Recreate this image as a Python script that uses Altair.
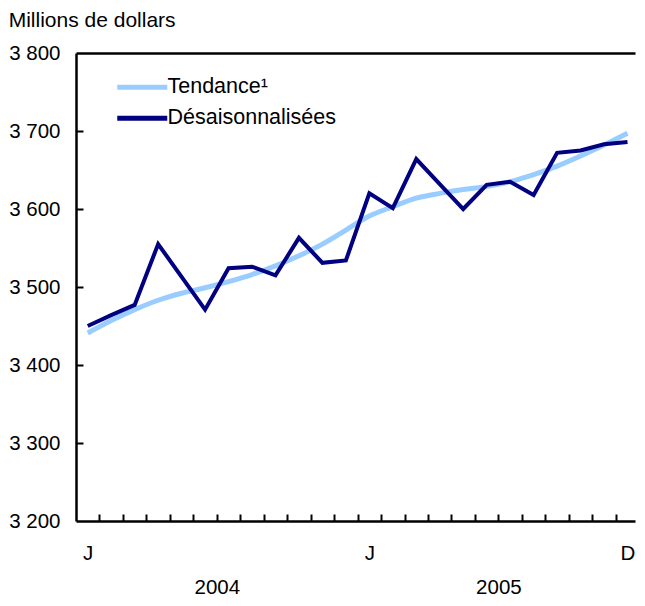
import altair as alt
import pandas as pd

# ---- data ----
month_index = list(range(24))  # Jan 2004 .. Dec 2005
trend = [3441, 3457, 3471, 3483, 3492, 3499, 3507, 3516, 3527, 3540, 3555, 3573,
         3591, 3603, 3614, 3620, 3625, 3629, 3635, 3644, 3655, 3668, 3682, 3697]
adjusted = [3450, 3464, 3477, 3555, 3513, 3471, 3524, 3526, 3515, 3563, 3531, 3534,
            3620, 3601, 3664, 3632, 3600, 3631, 3635, 3618, 3672, 3675, 3683, 3686]
series_names = ["Tendance¹", "Désaisonnalisées"]
series_colors = ["#99CCFF", "#000080"]
x_label_values = [0, 12, 23]
x_label_texts = ["J", "J", "D"]
year_values = [5.5, 17.5]
year_texts = ["2004", "2005"]
y_values = [3200, 3300, 3400, 3500, 3600, 3700, 3800]
y_title = "Millions de dollars"

FONT = "Liberation Sans"
AXIS_FS = 20.5

df = pd.DataFrame({
    "m": month_index * 2,
    "value": trend + adjusted,
    "serie": [series_names[0]] * 24 + [series_names[1]] * 24,
})


def label_expr(values, texts):
    expr = "''"
    for v, t in zip(reversed(values), reversed(texts)):
        expr = f"datum.value == {v} ? '{t}' : ({expr})"
    return expr


x_scale = alt.Scale(domain=[-0.5, 23.32], nice=False, zero=False)
y_scale = alt.Scale(domain=[3200, 3800], nice=False, zero=False)

color = alt.Color(
    "serie:N",
    scale=alt.Scale(domain=series_names, range=series_colors),
    legend=alt.Legend(
        title=None, orient="none", legendX=55.5, legendY=23.5,
        symbolType="M-5,0H5", symbolSize=100, symbolStrokeWidth=5,
        labelFont=FONT, labelFontSize=21.5, labelColor="black",
        labelOffset=14.5, labelLimit=500, padding=0, rowPadding=8,
    ),
)

boundaries = [i + 0.5 for i in range(23)]

# Layer 1: trend line + main axes (labels, domain lines)
trend_layer = alt.Chart(df).transform_filter(
    alt.datum.serie == series_names[0]
).mark_line(strokeWidth=5, interpolate="monotone").encode(
    x=alt.X("m:Q", scale=x_scale, axis=alt.Axis(
        orient="bottom", values=x_label_values,
        labelExpr=label_expr(x_label_values, x_label_texts),
        title=None, grid=False, ticks=False, domain=True,
        domainColor="black", domainWidth=2.5, labelPadding=22,
        labelFont=FONT, labelFontSize=AXIS_FS, labelColor="black",
        labelOverlap=False, labelFlush=False)),
    y=alt.Y("value:Q", scale=y_scale, axis=alt.Axis(
        orient="left", values=y_values,
        labelExpr="replace(format(datum.value, ','), ',', ' ')",
        title=None, grid=False, ticks=False, domain=True,
        domainColor="black", domainWidth=2.5, labelPadding=16,
        labelFont=FONT, labelFontSize=AXIS_FS, labelColor="black",
        labelOverlap=False, labelFlush=False)),
    color=color,
)

# Layer 2: seasonally adjusted line + inward tick marks
adj_layer = alt.Chart(df).transform_filter(
    alt.datum.serie == series_names[1]
).mark_line(strokeWidth=4).encode(
    x=alt.X("m:Q", scale=x_scale, axis=alt.Axis(
        orient="bottom", values=boundaries, offset=-7, tickSize=7,
        tickColor="black", tickWidth=2, labels=False, domain=False,
        grid=False, title=None)),
    y=alt.Y("value:Q", scale=y_scale, axis=alt.Axis(
        orient="left", values=y_values[1:-1], offset=-7, tickSize=7,
        tickColor="black", tickWidth=2, labels=False, domain=False,
        grid=False, title=None)),
    color=color,
)

# Layer 3: year labels axis
year_layer = alt.Chart(df).mark_line(opacity=0).encode(
    x=alt.X("m:Q", scale=x_scale, axis=alt.Axis(
        orient="bottom", values=year_values,
        labelExpr=label_expr(year_values, year_texts),
        ticks=False, domain=False, grid=False, title=None,
        labelPadding=56.5, labelFont=FONT, labelFontSize=AXIS_FS,
        labelColor="black", labelOverlap=False, labelFlush=False)),
    y=alt.Y("value:Q", scale=y_scale, axis=None),
    detail="serie:N",
)

# Layer 4: top border
top_layer = alt.Chart(df).mark_line(opacity=0).encode(
    x=alt.X("m:Q", scale=x_scale, axis=alt.Axis(
        orient="top", labels=False, ticks=False, domain=True,
        domainColor="black", domainWidth=2.5, grid=False, title=None)),
    y=alt.Y("value:Q", scale=y_scale, axis=None),
    detail="serie:N",
)

chart = alt.layer(trend_layer, adj_layer, year_layer, top_layer).resolve_axis(
    x="independent", y="independent"
).properties(
    width=629,
    height=590,
    autosize=alt.AutoSizeParams(type="fit", contains="padding"),
    padding={"left": 0, "top": 2, "right": 0, "bottom": 0},
    title=alt.Title(y_title, anchor="start", fontSize=21, fontWeight="normal",
                    font=FONT, color="black", offset=12),
).configure_view(strokeWidth=0)

chart.save("out.html", embed_options={"renderer": "svg", "actions": False})
